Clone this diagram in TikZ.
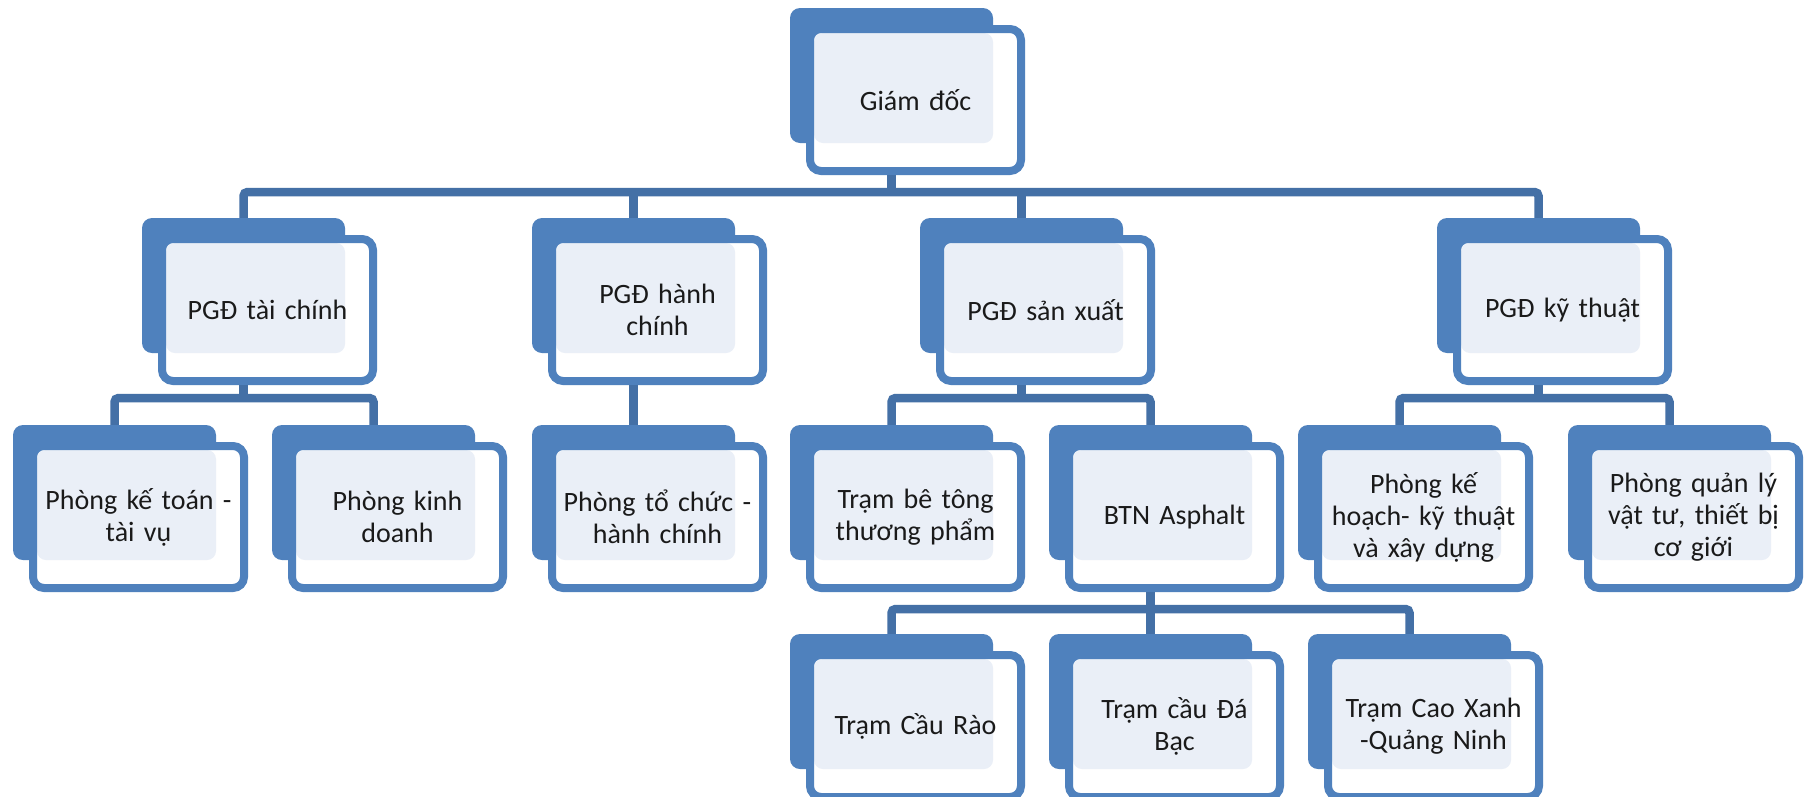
\documentclass[tikz,border=0pt]{standalone}
\usepackage{fontspec}
\setmainfont{Carlito}[WordSpace=0.75]
\usetikzlibrary{calc}
\definecolor{boxblue}{HTML}{4F81BD}
\definecolor{connblue}{HTML}{4470A6}
\definecolor{lightfill}{HTML}{EAEFF7}
\definecolor{txt}{HTML}{1A1A1A}
\tikzset{
  backbox/.style={fill=boxblue, draw=none, inner sep=0pt, minimum width=203pt, minimum height=135pt, rounded corners=10pt},
  frontbox/.style={fill=white, draw=boxblue, line width=8pt, inner sep=0pt,
    minimum width=211pt, minimum height=142pt, rounded corners=11pt,
    text width=200pt, align=center, text=txt, font=\fontsize{28}{32}\selectfont,
    path picture={\fill[lightfill, rounded corners=9pt]
      ($(path picture bounding box.center)+(-101.5,-67)$) rectangle
      ($(path picture bounding box.center)+(77.5,43)$);}},
  conn/.style={draw=connblue, line width=8.5pt, rounded corners=4pt}
}
\newcommand\obox[4]{%
  \node[backbox] (#1-b) at ({#2+101.5},{#3+67.5}) {};
  \node[frontbox] (#1) at ({#2+125.5},{#3+92}) {#4};
}
\begin{document}
\begin{tikzpicture}[x=1pt,y=-1pt]
\useasboundingbox (0,0) rectangle (1805,796);
\clip (0,0) rectangle (1805,796);
\fill[white] (0,0) rectangle (1805,796);
% level 1
\obox{gd}{790}{8}{Giám đốc}
% level 2
\obox{tc}{142}{218}{PGĐ tài chính}
\obox{hc}{532}{218}{PGĐ hành\\chính}
\obox{sx}{920}{218}{PGĐ sản xuất}
\obox{kt}{1437}{218}{PGĐ kỹ thuật}
% level 3
\obox{kto}{13}{425}{Phòng kế toán -\\tài vụ}
\obox{kd}{272}{425}{Phòng kinh\\doanh}
\obox{tchc}{532}{425}{Phòng tổ chức -\\hành chính}
\obox{bt}{790}{425}{Trạm bê tông\\thương phẩm}
\obox{btn}{1049}{425}{BTN Asphalt}
\obox{khkt}{1298}{425}{Phòng kế\\hoạch- kỹ thuật\\và xây dựng}
\obox{ql}{1568}{425}{Phòng quản lý\\vật tư, thiết bị\\cơ giới}
% level 4
\obox{cr}{790}{634}{Trạm Cầu Rào}
\obox{db}{1049}{634}{Trạm cầu Đá\\Bạc}
\obox{cx}{1308}{634}{Trạm Cao Xanh\\-Quảng Ninh}
% bar levels
\coordinate (y1) at (0,192);
\coordinate (y2) at (0,398);
\coordinate (y3) at (0,609);
% connectors level 1
\draw[conn] (gd-b.center |- gd.south) -- (gd-b.center |- y1);
\draw[conn] (tc-b.north) |- (kt-b.north |- y1) -- (kt-b.north);
\draw[conn] (hc-b.north) -- (hc-b.north |- y1);
\draw[conn] (sx-b.north) -- (sx-b.north |- y1);
% connectors level 2
\draw[conn] (tc-b.center |- tc.south) -- (tc-b.center |- y2);
\draw[conn] (kto-b.north) |- (kd-b.north |- y2) -- (kd-b.north);
\draw[conn] (hc-b.center |- hc.south) -- (tchc-b.north);
\draw[conn] (sx-b.center |- sx.south) -- (sx-b.center |- y2);
\draw[conn] (bt-b.north) |- (btn-b.north |- y2) -- (btn-b.north);
\draw[conn] (kt-b.center |- kt.south) -- (kt-b.center |- y2);
\draw[conn] (khkt-b.north) |- (ql-b.north |- y2) -- (ql-b.north);
% connectors level 3
\draw[conn] (btn-b.center |- btn.south) -- (btn-b.center |- y3);
\draw[conn] (cr-b.north) |- (cx-b.north |- y3) -- (cx-b.north);
\draw[conn] (db-b.north) -- (db-b.north |- y3);
\end{tikzpicture}
\end{document}
